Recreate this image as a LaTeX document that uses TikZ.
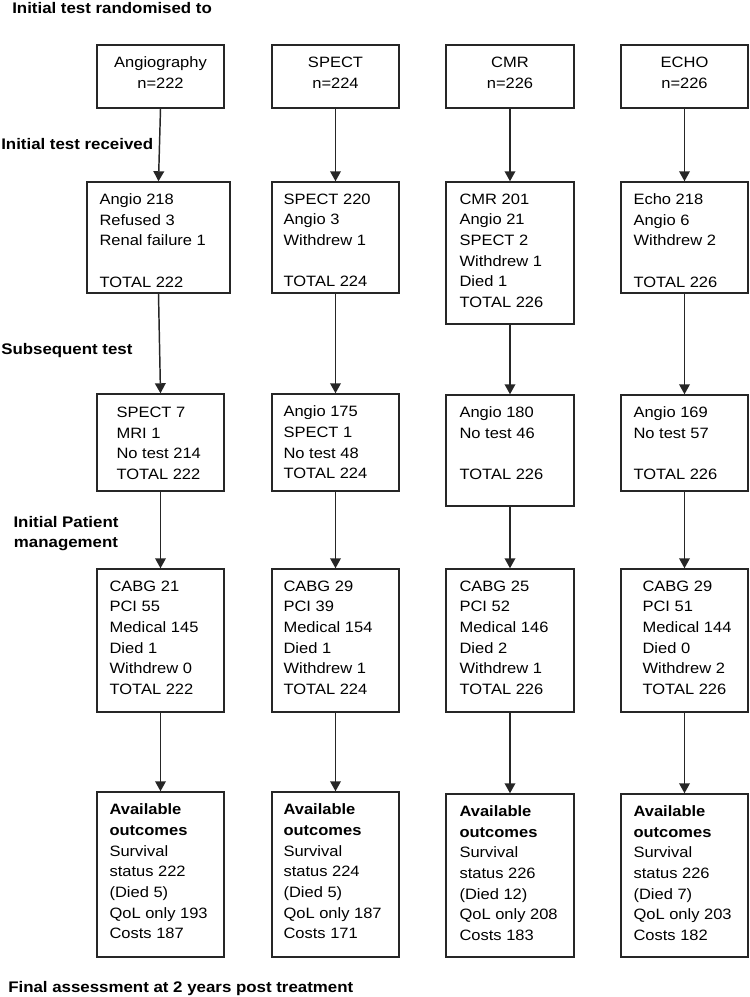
\documentclass[tikz,border=0pt]{standalone}
\usepackage{fontspec}
\setmainfont[FakeStretch=1.1]{Liberation Sans}
\usetikzlibrary{arrows.meta,fit,calc}
\tikzset{
  box/.style={draw=black!85, line width=1.1pt, inner sep=0pt, rectangle},
  txt/.style={inner sep=0pt, align=left, anchor=north west, font=\fontsize{11.25}{15.5}\selectfont},
  ctxt/.style={inner sep=0pt, align=center, anchor=north, font=\fontsize{11.25}{15.5}\selectfont},
  lbl/.style={inner sep=0pt, font=\bfseries\fontsize{11.5}{15}\selectfont},
  arr/.style={draw=black!85, line width=1.1pt, -{Triangle[length=7.5pt,width=8pt]}}
}
\begin{document}
\begin{tikzpicture}[x=0.75pt,y=-0.75pt]
\useasboundingbox (0,0) rectangle (750,997);
% stage labels
\node[lbl, anchor=base west] (l1) at (12,13.5) {Initial test randomised to};
\node[lbl, anchor=base west] (l2) at (1,149) {Initial test received};
\node[lbl, anchor=base west] (l3) at (1,354) {Subsequent test};
\node[lbl, anchor=north, align=center] (l4) at (66,516.5) {Initial Patient\\management};
\node[lbl, anchor=base west] (l5) at (8,992) {Final assessment at 2 years post treatment};
% row 1
\node[box, fit={(97,45) (224,108)}] (a1) {};
\node[box, fit={(272,45) (399,108)}] (s1) {};
\node[box, fit={(446,45) (574,108)}] (c1) {};
\node[box, fit={(621,45) (748,108)}] (e1) {};
\node[ctxt] (a1t) at ($(a1.north)+(0,12.5)$) {Angiography\\n=222};
\node[ctxt] (s1t) at ($(s1.north)+(0,12.5)$) {SPECT\\n=224};
\node[ctxt] (c1t) at ($(c1.north)+(0,12.5)$) {CMR\\n=226};
\node[ctxt] (e1t) at ($(e1.north)+(0,12.5)$) {ECHO\\n=226};
% row 2
\node[box, fit={(87,182) (230,293)}] (a2) {};
\node[box, fit={(272,182) (399,293)}] (s2) {};
\node[box, fit={(446,182) (574,324)}] (c2) {};
\node[box, fit={(621,182) (748,293)}] (e2) {};
\node[txt] (a2t) at ($(a2.north west)+(13,12)$) {Angio 218\\Refused 3\\Renal failure 1\\~\\TOTAL 222};
\node[txt] (s2t) at ($(s2.north west)+(12,12)$) {SPECT 220\\Angio 3\\Withdrew 1\\~\\TOTAL 224};
\node[txt] (c2t) at ($(c2.north west)+(14,12)$) {CMR 201\\Angio 21\\SPECT 2\\Withdrew 1\\Died 1\\TOTAL 226};
\node[txt] (e2t) at ($(e2.north west)+(13,12)$) {Echo 218\\Angio 6\\Withdrew 2\\~\\TOTAL 226};
% row 3
\node[box, fit={(97,394) (224,491)}] (a3) {};
\node[box, fit={(272,394) (399,491)}] (s3) {};
\node[box, fit={(446,395) (574,506)}] (c3) {};
\node[box, fit={(621,395) (748,491)}] (e3) {};
\node[txt] (a3t) at ($(a3.north west)+(20,13.5)$) {SPECT 7\\MRI 1\\No test 214\\TOTAL 222};
\node[txt] (s3t) at ($(s3.north west)+(12,12.5)$) {Angio 175\\SPECT 1\\No test 48\\TOTAL 224};
\node[txt] (c3t) at ($(c3.north west)+(14,12)$) {Angio 180\\No test 46\\~\\TOTAL 226};
\node[txt] (e3t) at ($(e3.north west)+(13,12)$) {Angio 169\\No test 57\\~\\TOTAL 226};
% row 4
\node[box, fit={(97,569) (224,712)}] (a4) {};
\node[box, fit={(272,569) (399,712)}] (s4) {};
\node[box, fit={(446,569) (574,712)}] (c4) {};
\node[box, fit={(621,569) (748,712)}] (e4) {};
\node[txt] (a4t) at ($(a4.north west)+(13,12)$) {CABG 21\\PCI 55\\Medical 145\\Died 1\\Withdrew 0\\TOTAL 222};
\node[txt] (s4t) at ($(s4.north west)+(12,12)$) {CABG 29\\PCI 39\\Medical 154\\Died 1\\Withdrew 1\\TOTAL 224};
\node[txt] (c4t) at ($(c4.north west)+(14,12)$) {CABG 25\\PCI 52\\Medical 146\\Died 2\\Withdrew 1\\TOTAL 226};
\node[txt] (e4t) at ($(e4.north west)+(22,12)$) {CABG 29\\PCI 51\\Medical 144\\Died 0\\Withdrew 2\\TOTAL 226};
% row 5
\node[box, fit={(97,792) (224,957)}] (a5) {};
\node[box, fit={(272,792) (399,957)}] (s5) {};
\node[box, fit={(446,794) (574,957)}] (c5) {};
\node[box, fit={(621,794) (748,957)}] (e5) {};
\node[txt] (a5t) at ($(a5.north west)+(13,12.5)$) {\textbf{Available}\\\textbf{outcomes}\\Survival\\status 222\\(Died 5)\\QoL only 193\\Costs 187};
\node[txt] (s5t) at ($(s5.north west)+(12,12.5)$) {\textbf{Available}\\\textbf{outcomes}\\Survival\\status 224\\(Died 5)\\QoL only 187\\Costs 171};
\node[txt] (c5t) at ($(c5.north west)+(14,12)$) {\textbf{Available}\\\textbf{outcomes}\\Survival\\status 226\\(Died 12)\\QoL only 208\\Costs 183};
\node[txt] (e5t) at ($(e5.north west)+(13,12)$) {\textbf{Available}\\\textbf{outcomes}\\Survival\\status 226\\(Died 7)\\QoL only 203\\Costs 182};
% arrows
\foreach \c in {a,s,c,e}{
  \draw[arr] (\c1.south) -- (\c2.north);
  \draw[arr] (\c2.south) -- (\c3.north);
  \draw[arr] (\c3.south) -- (\c4.north);
  \draw[arr] (\c4.south) -- (\c5.north);
}
\end{tikzpicture}
\end{document}
